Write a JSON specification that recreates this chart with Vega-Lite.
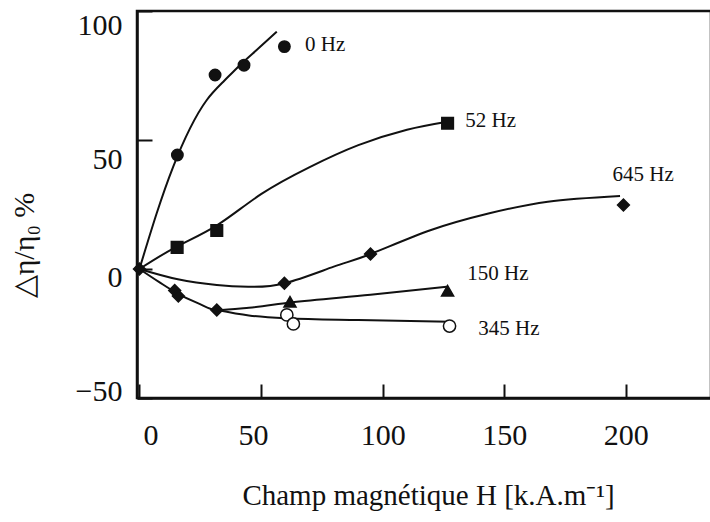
{
  "$schema": "https://vega.github.io/schema/vega-lite/v6.json",
  "width": 574,
  "height": 387,
  "autosize": {"type": "none"},
  "padding": {"left": 137, "top": 11, "right": 0, "bottom": 124},
  "background": "white",
  "config": {
    "view": {"stroke": "#111", "strokeWidth": 2.5},
    "font": "Liberation Serif",
    "axis": {"grid": false, "labelColor": "#111", "titleColor": "#111", "domainColor": "#111", "tickColor": "#111", "labelFont": "Liberation Serif", "titleFont": "Liberation Serif", "titleFontWeight": "normal"}
  },
  "datasets": {
    "curves": [
      {"series": "0 Hz", "x": 0, "y": 0},
      {"series": "0 Hz", "x": 7.1, "y": 21.6},
      {"series": "0 Hz", "x": 13.9, "y": 39.7},
      {"series": "0 Hz", "x": 20.8, "y": 54.5},
      {"series": "0 Hz", "x": 27.7, "y": 65.5},
      {"series": "0 Hz", "x": 34.5, "y": 72.6},
      {"series": "0 Hz", "x": 41.4, "y": 79.1},
      {"series": "0 Hz", "x": 48.2, "y": 84.9},
      {"series": "0 Hz", "x": 56.5, "y": 92},
      {"series": "52 Hz", "x": 0, "y": 0},
      {"series": "52 Hz", "x": 15, "y": 8.5},
      {"series": "52 Hz", "x": 32, "y": 17},
      {"series": "52 Hz", "x": 50, "y": 29},
      {"series": "52 Hz", "x": 70, "y": 39.5},
      {"series": "52 Hz", "x": 90, "y": 48},
      {"series": "52 Hz", "x": 110, "y": 54},
      {"series": "52 Hz", "x": 126, "y": 57},
      {"series": "645 Hz", "x": 0, "y": 0},
      {"series": "645 Hz", "x": 15.8, "y": -4},
      {"series": "645 Hz", "x": 31.8, "y": -6.2},
      {"series": "645 Hz", "x": 44.7, "y": -6.9},
      {"series": "645 Hz", "x": 59.8, "y": -5.5},
      {"series": "645 Hz", "x": 79.9, "y": 0.9},
      {"series": "645 Hz", "x": 95, "y": 5.8},
      {"series": "645 Hz", "x": 119.9, "y": 15.1},
      {"series": "645 Hz", "x": 143.9, "y": 21.6},
      {"series": "645 Hz", "x": 167.9, "y": 26.1},
      {"series": "645 Hz", "x": 197.6, "y": 28.3},
      {"series": "150 Hz", "x": 0, "y": 0},
      {"series": "150 Hz", "x": 8, "y": -5},
      {"series": "150 Hz", "x": 15.5, "y": -9.4},
      {"series": "150 Hz", "x": 24, "y": -13.2},
      {"series": "150 Hz", "x": 31.8, "y": -15.9},
      {"series": "150 Hz", "x": 45, "y": -15},
      {"series": "150 Hz", "x": 61.9, "y": -13},
      {"series": "150 Hz", "x": 95, "y": -10},
      {"series": "150 Hz", "x": 126.5, "y": -6.9},
      {"series": "345 Hz", "x": 31.8, "y": -15.9},
      {"series": "345 Hz", "x": 45, "y": -18},
      {"series": "345 Hz", "x": 60.6, "y": -19.1},
      {"series": "345 Hz", "x": 90, "y": -19.8},
      {"series": "345 Hz", "x": 127.5, "y": -20.4}
    ],
    "points": [
      {"marker": "diamond", "x": 0, "y": 0},
      {"marker": "circle", "x": 15.6, "y": 44.2},
      {"marker": "circle", "x": 31.1, "y": 75.2},
      {"marker": "circle", "x": 43, "y": 79},
      {"marker": "circle", "x": 59.6, "y": 86.2},
      {"marker": "square", "x": 15.5, "y": 8.4},
      {"marker": "square", "x": 31.8, "y": 14.9},
      {"marker": "square", "x": 126.7, "y": 56.5},
      {"marker": "diamond", "x": 59.6, "y": -5.5},
      {"marker": "diamond", "x": 95, "y": 5.8},
      {"marker": "diamond", "x": 199, "y": 24.8},
      {"marker": "diamond", "x": 14.5, "y": -8.3},
      {"marker": "diamond", "x": 16, "y": -10.5},
      {"marker": "diamond", "x": 31.8, "y": -15.9},
      {"marker": "triangle", "x": 61.9, "y": -12.7},
      {"marker": "triangle", "x": 126.7, "y": -8.4},
      {"marker": "open", "x": 60.6, "y": -17.8},
      {"marker": "open", "x": 63.3, "y": -21.3},
      {"marker": "open", "x": 127.5, "y": -22.1}
    ],
    "labels": [
      {"label": "0 Hz", "x": 68.1, "y": 86.8},
      {"label": "52 Hz", "x": 134, "y": 57.4},
      {"label": "645 Hz", "x": 194.5, "y": 36.4},
      {"label": "150 Hz", "x": 134.8, "y": -2},
      {"label": "345 Hz", "x": 139.3, "y": -23.3}
    ]
  },
  "encoding": {
    "x": {
      "field": "x", "type": "quantitative",
      "scale": {"domain": [-1, 235], "nice": false, "zero": false},
      "axis": {
        "values": [0, 50, 100, 150, 200],
        "tickSize": -14, "tickWidth": 2, "domainWidth": 2.5,
        "labelFontSize": 30, "labelPadding": 36,
        "labelOffset": {"condition": [{"test": "datum.value == 0", "value": 11}, {"test": "datum.value == 50", "value": -8}], "value": 0},
        "title": "Champ magnétique H [k.A.m⁻¹]",
        "titleFontSize": 29, "titleX": 291, "titleY": 97, "titleBaseline": "middle", "titleAlign": "center"
      }
    },
    "y": {
      "field": "y", "type": "quantitative",
      "scale": {"domain": [-50, 100], "nice": false, "zero": false},
      "axis": {
        "values": [-50, 0, 50, 100],
        "tickSize": -15, "tickWidth": 2, "domainWidth": 2.5,
        "labelFontSize": 30, "labelPadding": 30,
        "labelOffset": {"condition": [{"test": "datum.value == 100", "value": 14}, {"test": "datum.value == 50", "value": 19}, {"test": "datum.value == 0", "value": 8}], "value": -7},
        "title": "△η/η₀ %",
        "titleFontSize": 30, "titleX": -113, "titleY": 234, "titleAngle": -90, "titleBaseline": "middle", "titleAlign": "center"
      }
    }
  },
  "layer": [
    {
      "data": {"name": "curves"},
      "transform": [{"filter": "datum.series == '0 Hz' || datum.series == '52 Hz' || datum.series == '645 Hz'"}],
      "mark": {"type": "line", "interpolate": "natural", "color": "#111", "strokeWidth": 2},
      "encoding": {"detail": {"field": "series", "type": "nominal"}}
    },
    {
      "data": {"name": "curves"},
      "transform": [{"filter": "datum.series == '150 Hz' || datum.series == '345 Hz'"}],
      "mark": {"type": "line", "interpolate": "monotone", "color": "#111", "strokeWidth": 2},
      "encoding": {"detail": {"field": "series", "type": "nominal"}}
    },
    {
      "data": {"name": "points"},
      "mark": {"type": "point", "filled": true, "stroke": "#111", "strokeWidth": 1.5, "opacity": 1},
      "encoding": {
        "shape": {"field": "marker", "type": "nominal", "legend": null, "scale": {"domain": ["circle", "square", "diamond", "triangle", "open"], "range": ["circle", "square", "diamond", "triangle-up", "circle"]}},
        "size": {"field": "marker", "type": "nominal", "legend": null, "scale": {"domain": ["circle", "square", "diamond", "triangle", "open"], "range": [130, 150, 200, 150, 90]}},
        "fill": {"field": "marker", "type": "nominal", "legend": null, "scale": {"domain": ["circle", "square", "diamond", "triangle", "open"], "range": ["#111", "#111", "#111", "#111", "white"]}}
      }
    },
    {
      "data": {"name": "labels"},
      "mark": {"type": "text", "align": "left", "baseline": "middle", "fontSize": 21, "font": "Liberation Serif", "color": "#111"},
      "encoding": {"text": {"field": "label", "type": "nominal"}}
    }
  ]
}
